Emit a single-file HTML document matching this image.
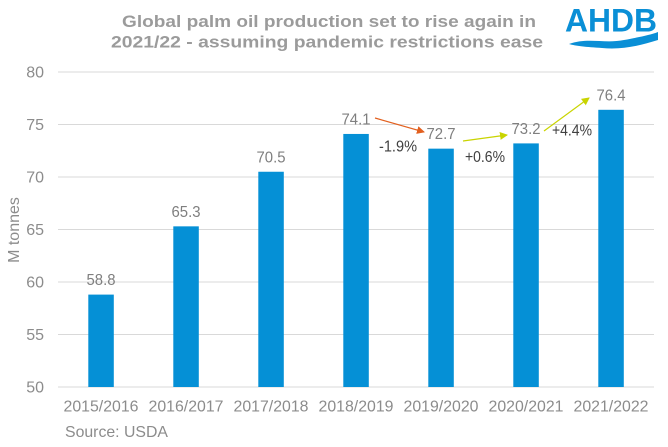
<!DOCTYPE html>
<html><head><meta charset="utf-8"><style>
html,body{margin:0;padding:0;background:#fff;}
svg{display:block;}
text{font-family:"Liberation Sans",Arial,sans-serif;}
</style></head><body>
<svg width="668" height="447" viewBox="0 0 668 447" xmlns="http://www.w3.org/2000/svg">
<rect width="668" height="447" fill="#fff"/>
<!-- title -->
<text x="122" y="27" font-size="17" font-weight="bold" fill="#9b9b9b" textLength="414" lengthAdjust="spacingAndGlyphs">Global palm oil production set to rise again in</text>
<text x="111" y="47.5" font-size="17" font-weight="bold" fill="#9b9b9b" textLength="432" lengthAdjust="spacingAndGlyphs">2021/22 - assuming pandemic restrictions ease</text>
<!-- logo -->
<text x="565" y="31.7" font-size="32.5" font-weight="bold" fill="#0a8fd6" textLength="92" lengthAdjust="spacingAndGlyphs">AHDB</text>
<path d="M569,44 C588,37 604,44 624,40 C640,37 650,35 658,32 L658,40 C642,45 624,50 602,48 C586,47 576,46 569,44 Z" fill="#0a8fd6"/>
<!-- gridlines -->
<g stroke="#d9d9d9" stroke-width="1">
<line x1="58" y1="72" x2="654" y2="72"/>
<line x1="58" y1="124.5" x2="654" y2="124.5"/>
<line x1="58" y1="177" x2="654" y2="177"/>
<line x1="58" y1="229.5" x2="654" y2="229.5"/>
<line x1="58" y1="282" x2="654" y2="282"/>
<line x1="58" y1="334.5" x2="654" y2="334.5"/>
<line x1="58" y1="387" x2="654" y2="387"/>
</g>
<!-- y labels -->
<g font-size="16" fill="#8c8c8c" text-anchor="end">
<text x="44" y="77.5">80</text>
<text x="44" y="130">75</text>
<text x="44" y="182.5">70</text>
<text x="44" y="235">65</text>
<text x="44" y="287.5">60</text>
<text x="44" y="340">55</text>
<text x="44" y="392.5">50</text>
</g>
<text transform="translate(19,230) rotate(-90)" font-size="16" fill="#8c8c8c" text-anchor="middle">M tonnes</text>
<!-- bars -->
<g fill="#0590d6">
<rect x="88.3" y="294.6" width="25.5" height="92.4"/>
<rect x="173.3" y="226.35" width="25.5" height="160.65"/>
<rect x="258.3" y="171.75" width="25.5" height="215.25"/>
<rect x="343.3" y="133.95" width="25.5" height="253.05"/>
<rect x="428.3" y="148.65" width="25.5" height="238.35"/>
<rect x="513.3" y="143.4" width="25.5" height="243.6"/>
<rect x="598.3" y="109.8" width="25.5" height="277.2"/>
</g>
<!-- value labels -->
<g font-size="16" fill="#7f7f7f" text-anchor="middle">
<text x="101" y="285.1" textLength="29" lengthAdjust="spacingAndGlyphs">58.8</text>
<text x="186" y="216.9" textLength="29" lengthAdjust="spacingAndGlyphs">65.3</text>
<text x="271" y="162.3" textLength="29" lengthAdjust="spacingAndGlyphs">70.5</text>
<text x="356" y="124.5" textLength="29" lengthAdjust="spacingAndGlyphs">74.1</text>
<text x="441" y="139.2" textLength="29" lengthAdjust="spacingAndGlyphs">72.7</text>
<text x="526" y="133.9" textLength="29" lengthAdjust="spacingAndGlyphs">73.2</text>
<text x="611" y="100.3" textLength="29" lengthAdjust="spacingAndGlyphs">76.4</text>
</g>
<!-- arrows -->
<defs>
<marker id="ao" markerWidth="8" markerHeight="8" refX="7" refY="4" orient="auto" markerUnits="userSpaceOnUse"><path d="M0,0 L8,4 L0,8 Z" fill="#e2601f"/></marker>
<marker id="ag" markerWidth="8" markerHeight="8" refX="7" refY="4" orient="auto" markerUnits="userSpaceOnUse"><path d="M0,0 L8,4 L0,8 Z" fill="#c9d400"/></marker>
</defs>
<line x1="375" y1="118" x2="424" y2="132" stroke="#e2601f" stroke-width="1.2" marker-end="url(#ao)"/>
<line x1="463" y1="141" x2="507" y2="135" stroke="#c9d400" stroke-width="1.2" marker-end="url(#ag)"/>
<line x1="544" y1="131" x2="589" y2="98" stroke="#c9d400" stroke-width="1.2" marker-end="url(#ag)"/>
<!-- pct labels -->
<g font-size="16" fill="#404040">
<text x="379" y="151.5" textLength="38" lengthAdjust="spacingAndGlyphs">-1.9%</text>
<text x="465" y="162" textLength="40" lengthAdjust="spacingAndGlyphs">+0.6%</text>
<text x="552" y="135.5" textLength="40" lengthAdjust="spacingAndGlyphs">+4.4%</text>
</g>
<!-- category labels -->
<g font-size="16" fill="#8c8c8c" text-anchor="middle">
<text x="101" y="411.7" textLength="75" lengthAdjust="spacingAndGlyphs">2015/2016</text>
<text x="186" y="411.7" textLength="75" lengthAdjust="spacingAndGlyphs">2016/2017</text>
<text x="271" y="411.7" textLength="75" lengthAdjust="spacingAndGlyphs">2017/2018</text>
<text x="356" y="411.7" textLength="75" lengthAdjust="spacingAndGlyphs">2018/2019</text>
<text x="441" y="411.7" textLength="75" lengthAdjust="spacingAndGlyphs">2019/2020</text>
<text x="526" y="411.7" textLength="75" lengthAdjust="spacingAndGlyphs">2020/2021</text>
<text x="611" y="411.7" textLength="75" lengthAdjust="spacingAndGlyphs">2021/2022</text>
</g>
<text x="65" y="437" font-size="16" fill="#8c8c8c" textLength="103" lengthAdjust="spacingAndGlyphs">Source: USDA</text>
</svg>
</body></html>
